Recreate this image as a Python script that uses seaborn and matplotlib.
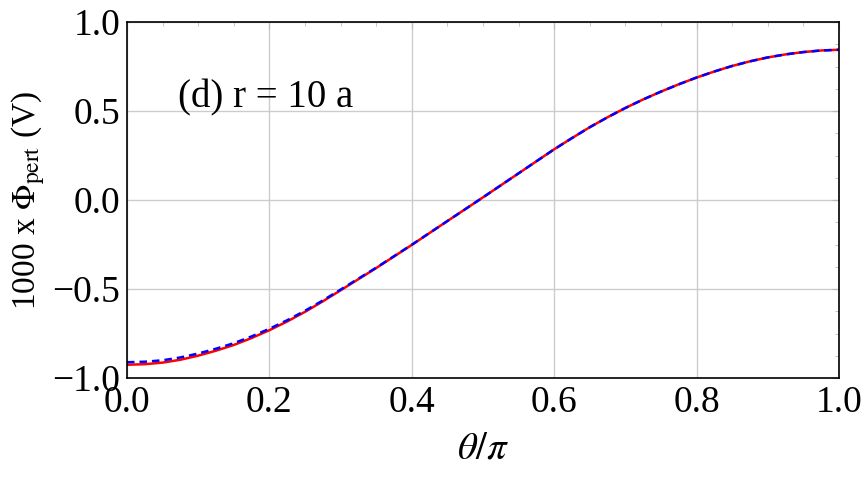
import numpy as np
import pandas as pd
import matplotlib
matplotlib.use('Agg')
import matplotlib.pyplot as plt
import seaborn as sns

# theta/pi sample positions and values
theta = [0.0, 0.025, 0.05, 0.075, 0.10, 0.125, 0.15, 0.175, 0.20, 0.225,
         0.25, 0.275, 0.30, 0.35, 0.40, 0.45, 0.50, 0.55, 0.60, 0.625,
         0.65, 0.675, 0.70, 0.725, 0.75, 0.775, 0.80, 0.825, 0.85, 0.875,
         0.90, 0.925, 0.95, 0.975, 1.0]
phi_exact = [-0.925, -0.922, -0.913, -0.897, -0.874, -0.846, -0.814, -0.775,
             -0.731, -0.682, -0.628, -0.569, -0.507, -0.382, -0.252, -0.118,
             0.015, 0.150, 0.285, 0.348, 0.409, 0.465, 0.517, 0.565, 0.609,
             0.650, 0.688, 0.722, 0.753, 0.779, 0.801, 0.818, 0.831, 0.840,
             0.844]
phi_approx = [-0.911, -0.908, -0.900, -0.884, -0.862, -0.835, -0.804, -0.766,
              -0.723, -0.675, -0.622, -0.564, -0.503, -0.380, -0.251, -0.118,
              0.015, 0.150, 0.285, 0.348, 0.409, 0.465, 0.517, 0.565, 0.609,
              0.650, 0.688, 0.722, 0.753, 0.779, 0.801, 0.818, 0.831, 0.840,
              0.844]

xticks = [0.0, 0.2, 0.4, 0.6, 0.8, 1.0]
yticks = [-1.0, -0.5, 0.0, 0.5, 1.0]
ytick_labels = ['\u22121.0', '\u22120.5', '0.0', '0.5', '1.0']

df = pd.DataFrame({'theta': theta, 'exact': phi_exact, 'approx': phi_approx})

sns.set_style('white')
plt.rcParams['font.family'] = ['Liberation Serif', 'DejaVu Serif']
plt.rcParams['mathtext.fontset'] = 'stix'
plt.rcParams['text.color'] = 'black'
plt.rcParams['axes.labelcolor'] = 'black'
plt.rcParams['xtick.labelcolor'] = 'black'
plt.rcParams['ytick.labelcolor'] = 'black'

fig = plt.figure(figsize=(8.64, 4.78), dpi=100)
ax = fig.add_axes([0.147, 0.209, 0.824, 0.745])

sns.lineplot(data=df, x='theta', y='exact', color='red', linewidth=1.8, ax=ax)
sns.lineplot(data=df, x='theta', y='approx', color='blue', linewidth=1.8,
             ax=ax)
ax.lines[-1].set_dashes([3, 2])

ax.set_xlim(0, 1)
ax.set_ylim(-1, 1)
ax.set_xticks(xticks)
ax.set_xticklabels([f'{t:.1f}' for t in xticks])
ax.set_yticks(yticks)
ax.set_yticklabels(ytick_labels)
ax.set_xticks(np.arange(0, 1.001, 0.05), minor=True)
ax.set_yticks(np.arange(-1, 1.001, 0.125), minor=True)
ax.grid(True, which='major', color='#cccccc', linewidth=1)
ax.tick_params(which='both', direction='in', top=True, right=True,
               color='#bbbbbb', labelsize=27, pad=5)
ax.tick_params(which='major', length=5)
ax.tick_params(which='minor', length=3)
for s in ax.spines.values():
    s.set_color('black')
    s.set_linewidth(1.2)

ax.set_xlabel(r'$\theta/\pi$', fontsize=28, labelpad=8)
ax.set_ylabel(r'1000 x $\Phi_{\rm pert}$ (V)', fontsize=24, labelpad=4)
ax.text(0.072, 0.52, '(d) r = 10 a', fontsize=28, va='baseline', ha='left')

fig.savefig('out.png', dpi=100)
